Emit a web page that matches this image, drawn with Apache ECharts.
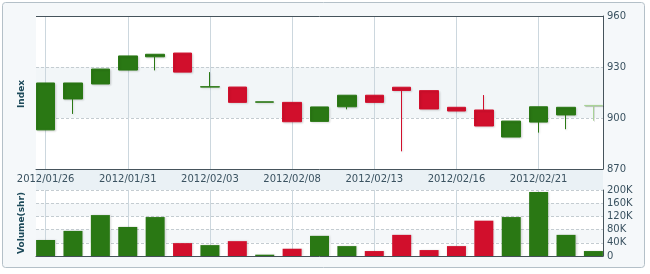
<!DOCTYPE html>
<html><head><meta charset="utf-8">
<script src="https://cdn.jsdelivr.net/npm/echarts@6/dist/echarts.min.js"></script>
<style>html,body{margin:0;padding:0;background:#ffffff}#c{width:650px;height:274px}</style>
</head><body><div id="c"></div>
<script>
const dates = ['2012/01/26','2012/01/27','2012/01/30','2012/01/31','2012/02/01','2012/02/02','2012/02/03',
  '2012/02/06','2012/02/07','2012/02/08','2012/02/09','2012/02/10','2012/02/13','2012/02/14','2012/02/15',
  '2012/02/16','2012/02/17','2012/02/20','2012/02/21','2012/02/22','2012/02/23'];
const opens  = [893.0, 911.2, 920.0, 928.2, 936.0, 938.2, 918.2, 918.2, 909.3, 909.2, 898.0, 906.6, 913.4, 918.1, 916.1, 906.3, 904.7, 888.8, 897.6, 901.8, 907.2];
const closes = [920.6, 920.6, 928.8, 936.5, 937.5, 927.0, 918.4, 909.2, 909.5, 897.8, 906.5, 913.4, 909.2, 916.2, 905.3, 904.1, 895.3, 898.2, 906.6, 906.3, 907.4];
const lows   = [893.0, 902.4, 920.0, 928.2, 928.0, 927.0, 918.2, 909.2, 909.3, 897.8, 898.0, 905.1, 909.2, 880.4, 905.3, 904.1, 895.3, 888.8, 891.4, 893.4, 898.4];
const highs  = [920.6, 920.6, 928.8, 936.5, 937.5, 938.2, 927.0, 918.2, 909.5, 909.2, 906.5, 913.4, 913.4, 918.1, 916.1, 906.3, 913.5, 898.2, 906.6, 906.3, 907.4];
const volumes = [48500, 76000, 124000, 88000, 118000, 39000, 33000, 45000, 4000, 22000, 61000, 30000, 15000, 64000, 18000, 30000, 107000, 118000, 194000, 64000, 15000];
const labelIndexes = [0, 3, 6, 9, 12, 15, 18];
const priceAxis = {min: 870, max: 960, interval: 30};
const volumeAxis = {min: 0, max: 200000, interval: 40000};
const lastIsPartial = true;

const UP = '#2a7814', DOWN = '#d10f2c', PARTIAL = '#a8d296';
const AXIS = '#46545c', TXT = '#3a5260', GRIDV = '#ccd7de', GRIDH = '#c4ccd1';

const candleData = dates.map((d, i) => {
  const item = {value: [i, opens[i], closes[i], lows[i], highs[i]]};
  if (lastIsPartial && i === dates.length - 1) {
    item.itemStyle = {color: PARTIAL, borderColor: PARTIAL, color0: PARTIAL, borderColor0: PARTIAL, shadowBlur: 0};
  }
  return item;
});
const volData = volumes.map((v, i) => ({
  value: [i, v],
  itemStyle: {color: closes[i] >= opens[i] ? UP : DOWN}
}));

const font = 'DejaVu Sans';
const xCommon = {
  type: 'value', min: -0.35, max: dates.length - 1 + 0.35,
  axisTick: {show: false, customValues: labelIndexes},
  splitLine: {show: true, lineStyle: {color: GRIDV, width: 1, type: 'solid'}},
};

const chart = echarts.init(document.getElementById('c'), null, {renderer: 'canvas'});
chart.setOption({
  animation: false,
  backgroundColor: 'transparent',
  graphic: [
    {type: 'rect', z: -100, shape: {x: 2.5, y: 2.5, width: 642, height: 265, r: 3},
     style: {fill: '#f5f8fa', stroke: '#b4c0c8', lineWidth: 1}},
    {type: 'rect', z: -90, shape: {x: 36, y: 169, width: 567, height: 21},
     style: {fill: '#eaf1f5'}},
    {type: 'line', z: 50, shape: {x1: 36, y1: 16.5, x2: 603, y2: 16.5},
     style: {stroke: AXIS, lineWidth: 1}},
    {type: 'text', z: 50, x: 22, y: 94, rotation: Math.PI / 2,
     style: {text: 'Index', font: 'bold 9px "DejaVu Sans"', fill: '#1d4a5a', align: 'center', verticalAlign: 'middle'}},
    {type: 'text', z: 50, x: 22, y: 223, rotation: Math.PI / 2,
     style: {text: 'Volume(shr)', font: 'bold 9px "DejaVu Sans"', fill: '#1d4a5a', align: 'center', verticalAlign: 'middle'}}
  ],
  grid: [
    {left: 36, right: 47, top: 16, height: 153, show: true, backgroundColor: '#ffffff', borderWidth: 0},
    {left: 36, right: 47, top: 190, height: 66, show: true, backgroundColor: '#ffffff', borderWidth: 0}
  ],
  xAxis: [
    Object.assign({}, xCommon, {
      gridIndex: 0,
      axisLine: {show: true, onZero: false, lineStyle: {color: AXIS, width: 1}},
      axisLabel: {show: true, customValues: labelIndexes, margin: 5, color: TXT, fontFamily: font, fontSize: 10,
        formatter: v => dates[Math.round(v)] || ''}
    }),
    Object.assign({}, xCommon, {
      gridIndex: 1,
      axisLine: {show: true, onZero: false, lineStyle: {color: AXIS, width: 1}},
      axisLabel: {show: false}
    })
  ],
  yAxis: [
    {type: 'value', gridIndex: 0, position: 'right', min: priceAxis.min, max: priceAxis.max, interval: priceAxis.interval,
     axisLine: {show: true, onZero: false, lineStyle: {color: AXIS}}, axisTick: {show: false},
     axisLabel: {margin: 4, color: TXT, fontFamily: font, fontSize: 10},
     splitLine: {show: true, lineStyle: {color: GRIDH, type: [3, 2]}},
     splitArea: {show: true, areaStyle: {color: ['rgba(255,255,255,0)', '#f2f6f8']}}},
    {type: 'value', gridIndex: 1, position: 'right', min: volumeAxis.min, max: volumeAxis.max, interval: volumeAxis.interval,
     axisLine: {show: true, onZero: false, lineStyle: {color: AXIS}}, axisTick: {show: false},
     axisLabel: {margin: 4, color: TXT, fontFamily: font, fontSize: 10,
       formatter: v => v === 0 ? '0' : (v / 1000) + 'K'},
     splitLine: {show: true, lineStyle: {color: GRIDH, type: [3, 2]}},
     splitArea: {show: true, areaStyle: {color: ['rgba(255,255,255,0)', '#f4f7f9']}}}
  ],
  series: [
    {type: 'candlestick', xAxisIndex: 0, yAxisIndex: 0, barWidth: 19, data: candleData,
     itemStyle: {color: UP, color0: DOWN, borderColor: UP, borderColor0: DOWN, borderWidth: 1,
       shadowBlur: 2, shadowColor: 'rgba(0,0,0,0.12)', shadowOffsetX: 1, shadowOffsetY: 1}},
    {type: 'bar', xAxisIndex: 1, yAxisIndex: 1, barWidth: 19, data: volData,
     itemStyle: {shadowBlur: 2, shadowColor: 'rgba(0,0,0,0.15)', shadowOffsetX: 1, shadowOffsetY: 0}}
  ]
});
</script></body></html>
